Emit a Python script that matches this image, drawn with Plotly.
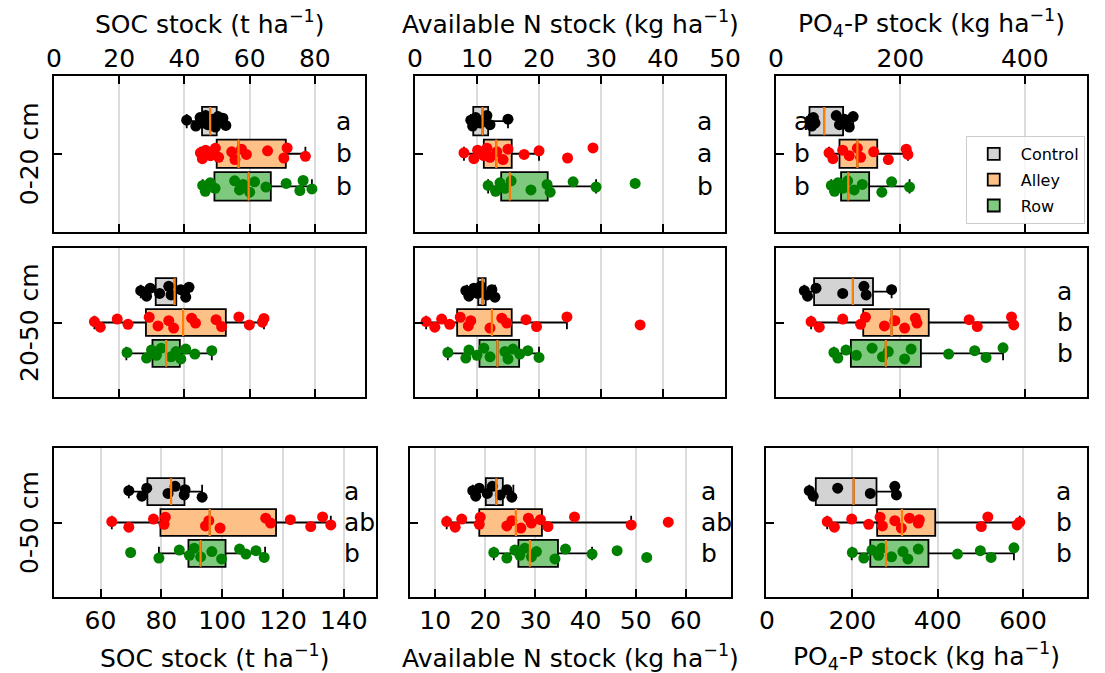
import plotly.graph_objects as go

# ---------------------------------------------------------------- data
GROUPS = ["Control", "Alley", "Row"]
GROUP_POS = [1, 0, -1]

# individual plot values (one list per treatment)
SOC_0_20 = {
    "Control": [40.7, 43.5, 44.8, 45.6, 46.5, 47.2, 48.5, 49.5, 50.3, 51.0, 51.8, 52.7],
    "Alley": [44.9, 45.5, 46.5, 48.0, 49.5, 50.5, 54.5, 55.5, 57.5, 59.0, 65.5, 70.5, 71.5, 77.1],
    "Row": [45.6, 46.4, 47.9, 49.4, 55.4, 56.9, 58.0, 60.0, 61.5, 65.0, 71.2, 75.4, 76.4, 79.1],
}
SOC_20_50 = {
    "Control": [26.6, 28.4, 29.5, 32.4, 35.2, 35.9, 38.9, 40.4, 41.4],
    "Alley": [12.4, 14.2, 19.4, 22.7, 29.2, 31.9, 35.2, 36.7, 42.2, 43.4, 49.7, 51.4, 56.7, 59.9, 63.9, 64.4],
    "Row": [22.4, 28.4, 29.9, 31.4, 32.9, 35.9, 37.4, 38.9, 40.4, 43.2, 48.4],
}
SOC_0_50 = {
    "Control": [69.3, 73.6, 75.2, 82.2, 84.5, 87.5, 87.8, 93.4],
    "Alley": [63.7, 69.3, 77.4, 80.9, 81.3, 94.5, 95.6, 99.3, 114.3, 115.9, 122.4, 129.1, 133.0, 135.7],
    "Row": [69.9, 79.2, 85.9, 89.2, 90.8, 92.9, 96.6, 99.8, 105.7, 107.8, 111.1, 113.8],
}
N_0_20 = {
    "Control": [9.0, 9.3, 9.8, 10.6, 11.6, 12.1, 15.0],
    "Alley": [7.9, 9.5, 10.1, 11.1, 11.6, 12.1, 13.2, 14.2, 15.0, 17.6, 20.0, 24.6, 28.7],
    "Row": [11.8, 13.0, 13.7, 14.5, 15.5, 18.7, 21.3, 21.8, 25.5, 29.2, 35.5],
}
N_20_50 = {
    "Control": [8.2, 8.7, 9.5, 10.1, 10.6, 11.6, 12.4, 12.9],
    "Alley": [1.8, 3.2, 4.3, 5.6, 7.3, 8.6, 9.0, 12.1, 14.0, 14.8, 17.9, 19.6, 24.5, 36.3],
    "Row": [5.3, 8.2, 8.7, 10.0, 11.1, 12.1, 14.5, 15.0, 15.8, 16.9, 18.2, 20.0],
}
N_0_50 = {
    "Control": [17.5, 18.1, 18.8, 20.4, 21.4, 23.0, 24.3, 25.3],
    "Alley": [12.3, 14.0, 15.3, 18.8, 19.0, 24.3, 25.3, 27.1, 28.6, 29.2, 31.0, 32.5, 37.8, 49.1, 56.5],
    "Row": [21.7, 24.3, 25.9, 26.9, 27.9, 29.2, 30.2, 33.9, 36.0, 41.3, 46.3, 52.2],
}
P_0_20 = {
    "Control": [55.0, 57.6, 60.2, 62.8, 96.9, 102.1, 110.0, 117.8, 124.1],
    "Alley": [85.3, 91.6, 107.3, 117.8, 130.9, 136.1, 157.1, 180.6, 209.4, 212.1],
    "Row": [89.0, 94.2, 99.5, 107.3, 115.2, 125.7, 138.8, 170.2, 185.9, 214.7],
}
P_20_50 = {
    "Control": [45.6, 50.8, 64.4, 107.3, 141.4, 145.0, 185.9],
    "Alley": [56.5, 69.6, 107.3, 136.1, 143.9, 174.4, 191.1, 206.8, 224.1, 226.7, 310.5, 323.6, 378.6, 382.2],
    "Row": [93.2, 99.5, 112.6, 129.3, 154.5, 171.2, 180.6, 206.8, 217.3, 277.5, 319.4, 337.7, 365.0],
}
P_0_50 = {
    "Control": [99.0, 108.2, 165.6, 242.1, 299.5, 303.3],
    "Alley": [141.1, 157.9, 198.5, 238.3, 265.0, 270.4, 299.5, 314.8, 333.9, 354.5, 356.9, 502.2, 517.5, 586.3, 592.4],
    "Row": [200.0, 226.8, 245.9, 261.2, 268.9, 291.8, 318.6, 330.1, 354.5, 446.3, 499.9, 525.1, 578.7],
}

# box statistics: [lower whisker, Q1, median, Q3, upper whisker]
SOC_0_20_BOX = {"Control": [40.7, 45.4, 47.9, 49.9, 52.7], "Alley": [44.9, 49.9, 56.6, 71.1, 77.1], "Row": [45.6, 49.2, 59.7, 66.5, 79.1]}
SOC_20_50_BOX = {"Control": [26.6, 31.2, 37.0, 37.5, 41.4], "Alley": [12.4, 28.2, 39.6, 52.7, 64.4], "Row": [22.2, 30.2, 34.4, 38.6, 48.4]}
SOC_0_50_BOX = {"Control": [69.3, 75.4, 83.2, 87.6, 93.4], "Alley": [63.7, 79.7, 95.9, 117.7, 135.7], "Row": [79.2, 88.9, 92.9, 101.1, 114.1]}
N_0_20_BOX = {"Control": [9.0, 9.4, 10.9, 11.8, 15.0], "Alley": [7.9, 11.1, 13.1, 15.6, 20.0], "Row": [11.8, 13.9, 15.3, 21.4, 29.2]}
N_20_50_BOX = {"Control": [8.4, 10.2, 10.9, 11.4, 12.9], "Alley": [1.8, 6.8, 12.4, 15.6, 24.5], "Row": [5.3, 10.4, 13.3, 16.8, 20.0]}
N_0_50_BOX = {"Control": [17.5, 20.1, 22.2, 23.5, 25.6], "Alley": [12.3, 18.8, 26.1, 31.3, 49.1], "Row": [21.7, 26.6, 28.9, 34.5, 41.3]}
P_0_20_BOX = {"Control": [53.0, 53.9, 77.5, 107.9, 124.1], "Alley": [85.3, 102.1, 130.9, 162.8, 212.1], "Row": [89.0, 104.7, 116.2, 149.8, 214.7]}
P_20_50_BOX = {"Control": [45.6, 61.3, 123.6, 156.0, 185.9], "Alley": [56.5, 140.3, 185.9, 245.6, 379.6], "Row": [93.2, 120.4, 176.5, 233.0, 365.0]}
P_0_50_BOX = {"Control": [99.0, 114.3, 203.0, 256.6, 303.3], "Alley": [141.1, 258.1, 316.3, 394.3, 592.4], "Row": [198.5, 242.0, 278.8, 378.3, 578.7]}

# significance letters (Control, Alley, Row)
LET_SOC_0_20 = ["a", "b", "b"]
LET_N_0_20 = ["a", "a", "b"]
LET_P_0_20 = ["a", "b", "b"]
LET_P_20_50 = ["a", "b", "b"]
LET_SOC_0_50 = ["a", "ab", "b"]
LET_N_0_50 = ["a", "ab", "b"]
LET_P_0_50 = ["a", "b", "b"]

DEPTHS = ["0-20 cm", "20-50 cm", "0-50 cm"]
VAR_TITLES = ["SOC stock (t ha<sup>−1</sup>)",
              "Available N stock (kg ha<sup>−1</sup>)",
              "PO<sub>4</sub>-P stock (kg ha<sup>−1</sup>)"]

TICKS_TOP = [[0, 20, 40, 60, 80], [0, 10, 20, 30, 40, 50], [0, 200, 400]]
TICKS_BOTTOM = [[60, 80, 100, 120, 140], [10, 20, 30, 40, 50, 60], [0, 200, 400, 600]]

# ---------------------------------------------------------------- style / layout
W, H = 1105, 673
FONT = "DejaVu Sans"
FS = 25
BOX_FILL = {"Control": "#d3d3d3", "Alley": "#fdc086", "Row": "#7fc97f"}
DOT = {"Control": "#000000", "Alley": "#ff0000", "Row": "#008000"}
MEDIAN = "#ff7f0e"
GRID = "#dcdcdc"
BOX_W = 0.87
YR = [-2.4, 2.4]
JITTER = [0.03, -0.15, 0.11, -0.06, 0.17, -0.11, 0.06, -0.18, 0.14, -0.02,
          0.09, -0.13, 0.18, -0.08, 0.01, 0.13]

ROW_PX = [(75.5, 232.0), (248.3, 396.7), (448.3, 596.7)]
COL_PX = [[(47, 365), (416, 733), (785, 1103)],
          [(47, 365), (416, 733), (785, 1103)],
          [(47, 376), (411, 739), (775, 1103)]]
XRANGE = [[[0, 95.4], [0, 50], [0, 500]],
          [[0, 95.4], [0, 50], [0, 500]],
          [[44.7, 150.5], [5, 69], [-2, 750]]]

# (row, col, points, box stats, letters, letter left edge px)
PANELS = [
    (0, 0, SOC_0_20, SOC_0_20_BOX, LET_SOC_0_20, 333),
    (0, 1, N_0_20, N_0_20_BOX, LET_N_0_20, 702),
    (0, 2, P_0_20, P_0_20_BOX, LET_P_0_20, 801),
    (1, 0, SOC_20_50, SOC_20_50_BOX, None, None),
    (1, 1, N_20_50, N_20_50_BOX, None, None),
    (1, 2, P_20_50, P_20_50_BOX, LET_P_20_50, 1070),
    (2, 0, SOC_0_50, SOC_0_50_BOX, LET_SOC_0_50, 341),
    (2, 1, N_0_50, N_0_50_BOX, LET_N_0_50, 706),
    (2, 2, P_0_50, P_0_50_BOX, LET_P_0_50, 1069),
]


def px_x(p):
    return p / W


def px_y(p):
    return 1 - p / H


fig = go.Figure()
annotations = []

for (r, c, pts, box, letters, let_x) in PANELS:
    k = r * 3 + c + 1
    xa, ya = f"x{k}", f"y{k}"
    for g, pos in zip(GROUPS, GROUP_POS):
        lo, q1, med, q3, hi = box[g]
        fig.add_trace(go.Box(
            y=[pos], q1=[q1], median=[med], q3=[q3], lowerfence=[lo], upperfence=[hi],
            orientation="h", width=BOX_W, whiskerwidth=0.5, boxpoints=False,
            fillcolor=BOX_FILL[g], line=dict(color="black", width=1.8),
            name=g, legendgroup=g, showlegend=(k == 1),
            xaxis=xa, yaxis=ya, hoverinfo="skip"))
    for g, pos in zip(GROUPS, GROUP_POS):
        vals = pts[g]
        fig.add_trace(go.Scatter(
            x=vals, y=[pos + JITTER[i % len(JITTER)] for i in range(len(vals))],
            mode="markers", marker=dict(color=DOT[g], size=11, line=dict(width=0)),
            showlegend=False, xaxis=xa, yaxis=ya, hoverinfo="skip"))
    for g, pos in zip(GROUPS, GROUP_POS):
        med = box[g][2]
        fig.add_trace(go.Scatter(
            x=[med, med], y=[pos - BOX_W / 2, pos + BOX_W / 2], mode="lines",
            line=dict(color=MEDIAN, width=2.2), showlegend=False,
            xaxis=xa, yaxis=ya, hoverinfo="skip"))

    x0, x1 = COL_PX[r][c]
    ytop, ybot = ROW_PX[r]
    xaxis = dict(domain=[px_x(x0), px_x(x1)], anchor=ya, range=XRANGE[r][c],
                 showgrid=True, gridcolor=GRID, gridwidth=1.5, zeroline=False,
                 showline=True, linecolor="black", linewidth=2,
                 ticks="inside", ticklen=8, tickwidth=1.8, tickcolor="black",
                 tickfont=dict(family=FONT, size=FS, color="black"))
    if r == 0:
        xaxis.update(side="top", tickvals=TICKS_TOP[c], mirror="ticks",
                     showticklabels=True, ticklabelstandoff=-3)
    elif r == 1:
        xaxis.update(side="bottom", tickvals=TICKS_TOP[c], mirror=True, showticklabels=False)
    else:
        xaxis.update(side="bottom", tickvals=TICKS_BOTTOM[c], mirror=True,
                     showticklabels=True)
    yaxis = dict(domain=[px_y(ybot), px_y(ytop)], anchor=xa, range=YR,
                 showgrid=False, zeroline=False, showline=True, linecolor="black",
                 linewidth=2, mirror=True, ticks="inside", ticklen=8, tickwidth=1.8,
                 tickcolor="black", tickvals=[0], showticklabels=False)
    fig.update_layout(**{f"xaxis{k}": xaxis, f"yaxis{k}": yaxis})

    if letters:
        for lab, pos in zip(letters, GROUP_POS):
            annotations.append(dict(
                text=lab, x=px_x(let_x), xref="paper", xanchor="left",
                y=pos, yref=ya, yanchor="middle", showarrow=False,
                font=dict(family=FONT, size=FS, color="black")))

# variable titles above the top row and below the bottom row
for c in range(3):
    cx_top = sum(COL_PX[0][c]) / 2
    cx_bot = sum(COL_PX[2][c]) / 2
    annotations.append(dict(text=VAR_TITLES[c], x=px_x(cx_top), y=px_y(23), xref="paper",
                            yref="paper", xanchor="center", yanchor="middle", showarrow=False,
                            font=dict(family=FONT, size=FS, color="black")))
    annotations.append(dict(text=VAR_TITLES[c], x=px_x(cx_bot), y=px_y(656), xref="paper",
                            yref="paper", xanchor="center", yanchor="middle", showarrow=False,
                            font=dict(family=FONT, size=FS, color="black")))

# depth labels on the left
for r in range(3):
    cy = sum(ROW_PX[r]) / 2
    annotations.append(dict(text=DEPTHS[r], x=px_x(22), y=px_y(cy), xref="paper",
                            yref="paper", xanchor="center", yanchor="middle",
                            textangle=-90, showarrow=False,
                            font=dict(family=FONT, size=FS, color="black")))

fig.update_layout(
    width=W, height=H, margin=dict(l=0, r=0, t=0, b=0),
    paper_bgcolor="white", plot_bgcolor="white",
    annotations=annotations,
    showlegend=True,
    legend=dict(x=px_x(979), y=px_y(136), xanchor="left", yanchor="top",
                bgcolor="rgba(255,255,255,0.8)", bordercolor="#cccccc", borderwidth=1,
                font=dict(family=FONT, size=16, color="black"),
                traceorder="grouped", tracegroupgap=2, itemwidth=44),
)

fig.write_html("out.html")
